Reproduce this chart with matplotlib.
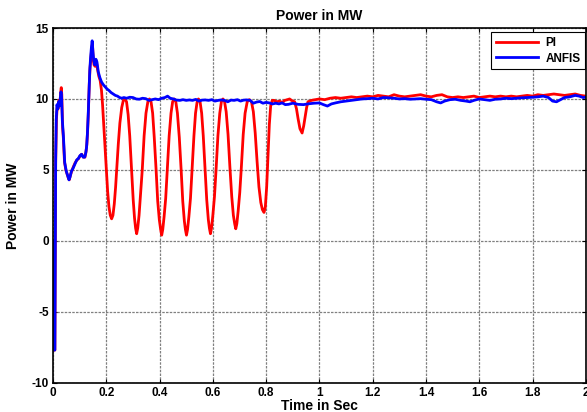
import numpy as np
import matplotlib
matplotlib.use('Agg')
import matplotlib.pyplot as plt

plt.rcParams['font.family'] = ['Liberation Sans', 'DejaVu Sans']
plt.rcParams['font.weight'] = 'bold'
plt.rcParams['axes.unicode_minus'] = False

# PI controller response (time in s, power in MW)
t_pi = [0.000, 0.001, 0.007, 0.010, 0.013, 0.016, 0.019, 0.022, 0.026, 0.029,
        0.031, 0.033, 0.036, 0.039, 0.043, 0.048, 0.053, 0.058, 0.061, 0.065,
        0.070, 0.076, 0.083, 0.090, 0.096, 0.102, 0.108, 0.114, 0.120, 0.124,
        0.127, 0.130, 0.133, 0.136, 0.139, 0.142, 0.145, 0.148, 0.151, 0.154,
        0.158, 0.163, 0.167, 0.172, 0.177, 0.182, 0.186, 0.191, 0.196, 0.200,
        0.205, 0.210, 0.215, 0.220, 0.225, 0.230, 0.235, 0.239, 0.245, 0.251,
        0.258, 0.264, 0.270, 0.276, 0.282, 0.288, 0.295, 0.301, 0.306, 0.310,
        0.314, 0.318, 0.323, 0.328, 0.335, 0.342, 0.349, 0.356, 0.362, 0.368,
        0.374, 0.380, 0.387, 0.393, 0.399, 0.404, 0.408, 0.412, 0.417, 0.423,
        0.429, 0.436, 0.443, 0.449, 0.455, 0.461, 0.467, 0.474, 0.481, 0.487,
        0.493, 0.497, 0.501, 0.505, 0.510, 0.516, 0.522, 0.529, 0.535, 0.541,
        0.546, 0.552, 0.558, 0.564, 0.571, 0.577, 0.583, 0.587, 0.591, 0.595,
        0.600, 0.606, 0.612, 0.619, 0.626, 0.632, 0.638, 0.644, 0.650, 0.657,
        0.664, 0.671, 0.677, 0.682, 0.686, 0.690, 0.695, 0.701, 0.707, 0.714,
        0.721, 0.729, 0.737, 0.745, 0.752, 0.759, 0.766, 0.773, 0.780, 0.786,
        0.792, 0.797, 0.802, 0.807, 0.812, 0.817, 0.823, 0.830, 0.840, 0.850,
        0.860, 0.870, 0.880, 0.888, 0.895, 0.901, 0.907, 0.914, 0.920, 0.927,
        0.935, 0.941, 0.947, 0.952, 0.957, 0.970, 0.985, 1.00, 1.02, 1.04,
        1.06, 1.08, 1.10, 1.12, 1.14, 1.16, 1.18, 1.20, 1.22, 1.24,
        1.26, 1.28, 1.30, 1.32, 1.34, 1.36, 1.38, 1.40, 1.42, 1.44,
        1.46, 1.48, 1.50, 1.52, 1.54, 1.56, 1.58, 1.60, 1.62, 1.64,
        1.66, 1.68, 1.70, 1.72, 1.74, 1.76, 1.78, 1.80, 1.82, 1.84,
        1.86, 1.88, 1.90, 1.92, 1.94, 1.96, 1.98, 2.00]
p_pi = [0.0, -7.7, -7.7, 5.5, 8.6, 9.5, 9.3, 9.9, 9.7, 10.5,
        10.8, 10.3, 8.0, 7.2, 5.6, 5.0, 4.7, 4.4, 4.3, 4.6,
        4.9, 5.2, 5.5, 5.7, 5.8, 6.0, 6.1, 5.9, 5.9, 6.3,
        6.8, 7.8, 9.2, 11.0, 12.2, 12.8, 13.5, 13.9, 12.8, 12.4,
        12.3, 12.6, 12.1, 11.6, 11.3, 10.6, 9.6, 8.0, 6.3, 5.0,
        3.5, 2.4, 1.8, 1.55, 1.8, 2.6, 3.8, 5.0, 6.8, 8.3,
        9.4, 9.9, 10.0, 9.8, 8.9, 7.4, 5.0, 2.9, 1.6, 0.9,
        0.5, 0.9, 1.8, 3.1, 5.0, 7.4, 9.0, 9.8, 10.0, 9.8,
        9.0, 7.3, 5.0, 2.8, 1.5, 0.8, 0.4, 0.8, 1.7, 3.0,
        5.0, 7.4, 9.0, 9.8, 10.0, 9.8, 9.0, 7.3, 5.0, 2.8,
        1.4, 0.8, 0.4, 0.8, 1.7, 3.0, 5.0, 7.4, 9.0, 9.8,
        10.0, 9.8, 9.0, 7.4, 5.0, 2.9, 1.5, 0.9, 0.5, 0.9,
        1.8, 3.1, 5.0, 7.4, 9.0, 9.8, 10.0, 9.8, 9.1, 7.5,
        5.2, 3.1, 1.8, 1.2, 0.85, 1.2, 2.1, 3.4, 5.2, 7.5,
        9.0, 9.8, 9.95, 9.8, 9.1, 7.6, 5.6, 3.8, 2.7, 2.2,
        2.0, 2.4, 3.8, 6.0, 8.2, 9.5, 9.9, 9.9, 9.8, 9.85,
        9.75, 9.9, 9.95, 10.0, 9.9, 9.85, 9.8, 9.3, 8.6, 7.9,
        7.6, 8.1, 8.8, 9.4, 9.8, 9.9, 9.95, 10.0, 9.95, 10.05,
        10.1, 10.05, 10.1, 10.15, 10.1, 10.15, 10.2, 10.15, 10.25, 10.2,
        10.15, 10.3, 10.2, 10.15, 10.2, 10.25, 10.3, 10.2, 10.15, 10.25,
        10.3, 10.15, 10.1, 10.15, 10.1, 10.15, 10.2, 10.1, 10.15, 10.2,
        10.15, 10.2, 10.15, 10.2, 10.15, 10.2, 10.25, 10.2, 10.3, 10.25,
        10.3, 10.35, 10.3, 10.25, 10.3, 10.35, 10.25, 10.2]

# ANFIS controller response
t_anfis = [0.000, 0.001, 0.007, 0.010, 0.012, 0.015, 0.018, 0.021, 0.024, 0.027,
           0.030, 0.032, 0.035, 0.039, 0.044, 0.050, 0.055, 0.060, 0.064, 0.069,
           0.075, 0.082, 0.089, 0.095, 0.101, 0.107, 0.113, 0.119, 0.123, 0.126,
           0.129, 0.132, 0.135, 0.138, 0.141, 0.144, 0.147, 0.150, 0.153, 0.157,
           0.161, 0.165, 0.170, 0.176, 0.182, 0.189, 0.196, 0.203, 0.210, 0.218,
           0.226, 0.234, 0.242, 0.250, 0.258, 0.266, 0.276, 0.288, 0.300, 0.312,
           0.324, 0.336, 0.348, 0.360, 0.372, 0.384, 0.396, 0.408, 0.420, 0.430,
           0.440, 0.452, 0.464, 0.476, 0.488, 0.500, 0.512, 0.524, 0.536, 0.548,
           0.560, 0.572, 0.584, 0.596, 0.608, 0.620, 0.632, 0.644, 0.656, 0.668,
           0.680, 0.692, 0.704, 0.716, 0.728, 0.740, 0.752, 0.764, 0.776, 0.788,
           0.800, 0.812, 0.824, 0.836, 0.848, 0.860, 0.872, 0.884, 0.900, 0.920,
           0.940, 0.960, 0.980, 1.000, 1.015, 1.030, 1.045, 1.060, 1.080, 1.100,
           1.120, 1.140, 1.160, 1.180, 1.200, 1.220, 1.240, 1.260, 1.280, 1.300,
           1.320, 1.340, 1.360, 1.380, 1.400, 1.420, 1.440, 1.455, 1.470, 1.490,
           1.510, 1.530, 1.550, 1.565, 1.580, 1.600, 1.620, 1.640, 1.660, 1.680,
           1.700, 1.720, 1.740, 1.760, 1.780, 1.800, 1.820, 1.840, 1.860, 1.875,
           1.890, 1.905, 1.920, 1.940, 1.960, 1.975, 1.990, 2.000]
p_anfis = [0.0, -7.7, -7.7, 5.8, 8.5, 9.6, 9.3, 9.8, 9.5, 10.0,
           10.5, 10.2, 8.5, 7.4, 5.5, 4.9, 4.6, 4.3, 4.5, 4.9,
           5.1, 5.4, 5.7, 5.8, 6.0, 6.1, 5.9, 5.9, 6.2, 6.6,
           7.5, 8.8, 10.5, 12.0, 12.9, 13.6, 14.1, 13.3, 12.7, 12.4,
           12.8, 12.6, 11.9, 11.5, 11.2, 11.0, 10.85, 10.7, 10.6, 10.45,
           10.35, 10.25, 10.2, 10.1, 10.05, 10.1, 10.05, 10.12, 10.1, 10.0,
           9.98, 10.05, 10.02, 9.9, 9.95, 10.0, 9.95, 10.05, 10.1, 10.2,
           10.05, 10.0, 9.92, 9.9, 9.95, 9.9, 9.93, 9.9, 9.97, 9.85,
           9.92, 9.93, 9.9, 9.95, 9.85, 9.9, 9.93, 9.9, 9.8, 9.92,
           9.9, 9.95, 9.85, 9.92, 9.93, 9.9, 9.7, 9.78, 9.82, 9.7,
           9.76, 9.72, 9.65, 9.7, 9.65, 9.72, 9.6, 9.62, 9.7, 9.62,
           9.6, 9.66, 9.7, 9.72, 9.6, 9.5, 9.65, 9.72, 9.8, 9.85,
           9.9, 9.95, 10.0, 10.02, 10.05, 10.0, 10.1, 10.08, 10.05, 10.0,
           10.02, 9.98, 10.0, 10.02, 9.98, 9.95, 9.8, 9.72, 9.85, 9.95,
           9.98, 9.9, 9.85, 9.8, 9.9, 10.0, 9.95, 9.9, 9.98, 10.0,
           10.05, 10.02, 10.05, 10.08, 10.1, 10.12, 10.15, 10.2, 10.1, 9.85,
           9.8, 9.95, 10.1, 10.15, 10.25, 10.2, 10.1, 10.12]

fig = plt.figure(figsize=(5.87, 4.12), dpi=100)
ax = fig.add_axes([0.0903, 0.0711, 0.9077, 0.8609])

ax.plot(t_pi, p_pi, color='r', lw=2.0, label='PI')
ax.plot(t_anfis, p_anfis, color='b', lw=2.0, label='ANFIS')

ax.set_xlim(0, 2)
ax.set_ylim(-10, 15)
ax.set_xticks(np.arange(0, 2.01, 0.2))
ax.set_xticklabels(['0', '0.2', '0.4', '0.6', '0.8', '1', '1.2', '1.4', '1.6', '1.8', '2'])
ax.set_yticks([-10, -5, 0, 5, 10, 15])
ax.tick_params(direction='in', top=True, right=True, length=3, width=0.8,
               labelsize=8.5, pad=3)
for lab in ax.get_xticklabels() + ax.get_yticklabels():
    lab.set_fontweight('bold')
for s in ax.spines.values():
    s.set_linewidth(1.2)

ax.grid(True, color='0.5', linestyle=(0, (2, 1)), linewidth=0.9)

ax.set_title('Power in MW', fontsize=10, fontweight='bold', pad=6)
ax.set_xlabel('Time in Sec', fontsize=10, fontweight='bold', labelpad=0)
ax.set_ylabel('Power in MW', fontsize=10, fontweight='bold', labelpad=8)

leg = ax.legend(loc='upper right', bbox_to_anchor=(0.999, 0.988), fontsize=8.5,
                fancybox=False, edgecolor='k', framealpha=1, borderaxespad=0,
                handlelength=3.6, handletextpad=0.6, borderpad=0.4, labelspacing=0.3)
leg.get_frame().set_linewidth(0.8)
for txt in leg.get_texts():
    txt.set_fontweight('bold')

fig.savefig('out.png', dpi=100)
